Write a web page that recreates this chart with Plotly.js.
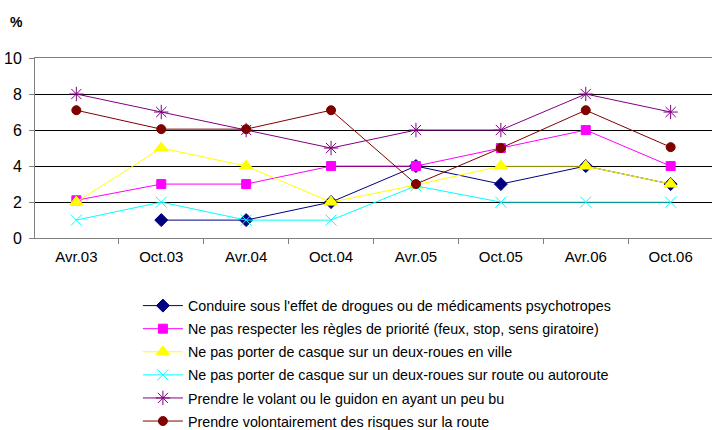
<!DOCTYPE html>
<html><head><meta charset="utf-8">
<script src="https://cdn.plot.ly/plotly-3.0.1.min.js"></script>
<style>html,body{margin:0;background:#fff;overflow:hidden}#c{width:712px;height:438px}</style>
</head><body><div id="c"></div>
<script>
var categories = ["Avr.03","Oct.03","Avr.04","Oct.04","Avr.05","Oct.05","Avr.06","Oct.06"];
var drogues = [null,1,1,2,4,3,4,3];
var priorite = [2.1,3,3,4,4,5,6,4];
var casqueVille = [2,5,4,2,2.95,4,4,3];
var casqueRoute = [1,2,1,1,2.9,2,2,2];
var peuBu = [8,7,6,5,6,6,8,7];
var risques = [7.1,6.05,6.05,7.1,3,5,7.1,5.05];
var names = [
 "Conduire sous l'effet de drogues ou de médicaments psychotropes",
 "Ne pas respecter les règles de priorité (feux, stop, sens giratoire)",
 "Ne pas porter de casque sur un deux-roues en ville",
 "Ne pas porter de casque sur un deux-roues sur route ou autoroute",
 "Prendre le volant ou le guidon en ayant un peu bu",
 "Prendre volontairement des risques sur la route"
];
var series = [drogues, priorite, casqueVille, casqueRoute, peuBu, risques];
var colors = ["#000080","#FF00FF","#FFFF00","#00FFFF","#800080","#800000"];
var symbols = ["diamond","square","triangle-up","x-thin-open","asterisk-open","circle"];
var sizes = [10,9,12,11,12,9];
var traces = series.map(function(s,i){
  return {x:categories, y:s, name:names[i], legendgroup:"g"+i, type:"scatter", mode:"lines+markers",
    line:{color:colors[i], width:1},
    marker:{symbol:symbols[i], size:sizes[i], color:colors[i], line:{color:colors[i], width:1}}};
});
var layout = {
  width:712, height:438,
  margin:{l:35, r:0, t:58, b:0},
  paper_bgcolor:"#fff", plot_bgcolor:"#fff",
  font:{family:"Liberation Sans, Arial, sans-serif", color:"#000"},
  showlegend:true,
  legend:{x:0.152, y:0.39, xanchor:"left", yanchor:"top", orientation:"v",
    font:{size:14.3, family:"Liberation Sans, Arial, sans-serif"}, itemwidth:40, tracegroupgap:1.5},
  xaxis:{type:"category", showgrid:false, showline:true, linecolor:"#808080", linewidth:1,
    mirror:true, ticks:"outside", tickson:"boundaries", ticklen:5, tickcolor:"#808080",
    tickfont:{size:15}, ticklabelstandoff:5, zeroline:false, fixedrange:true},
  yaxis:{range:[0,10], dtick:2, domain:[0.526,1], showgrid:true, gridcolor:"#000", gridwidth:1,
    showline:true, linecolor:"#808080", linewidth:1, ticks:"outside", ticklen:5, tickcolor:"#808080",
    tickfont:{size:16}, ticklabelstandoff:4, zeroline:false, fixedrange:true},
  annotations:[{text:"<b>%</b>", xref:"paper", yref:"paper", x:-0.028, y:1.095,
    showarrow:false, font:{size:14}, xanchor:"center", yanchor:"middle"}]
};
Plotly.newPlot("c", traces, layout, {displayModeBar:false, staticPlot:true});
</script></body></html>
